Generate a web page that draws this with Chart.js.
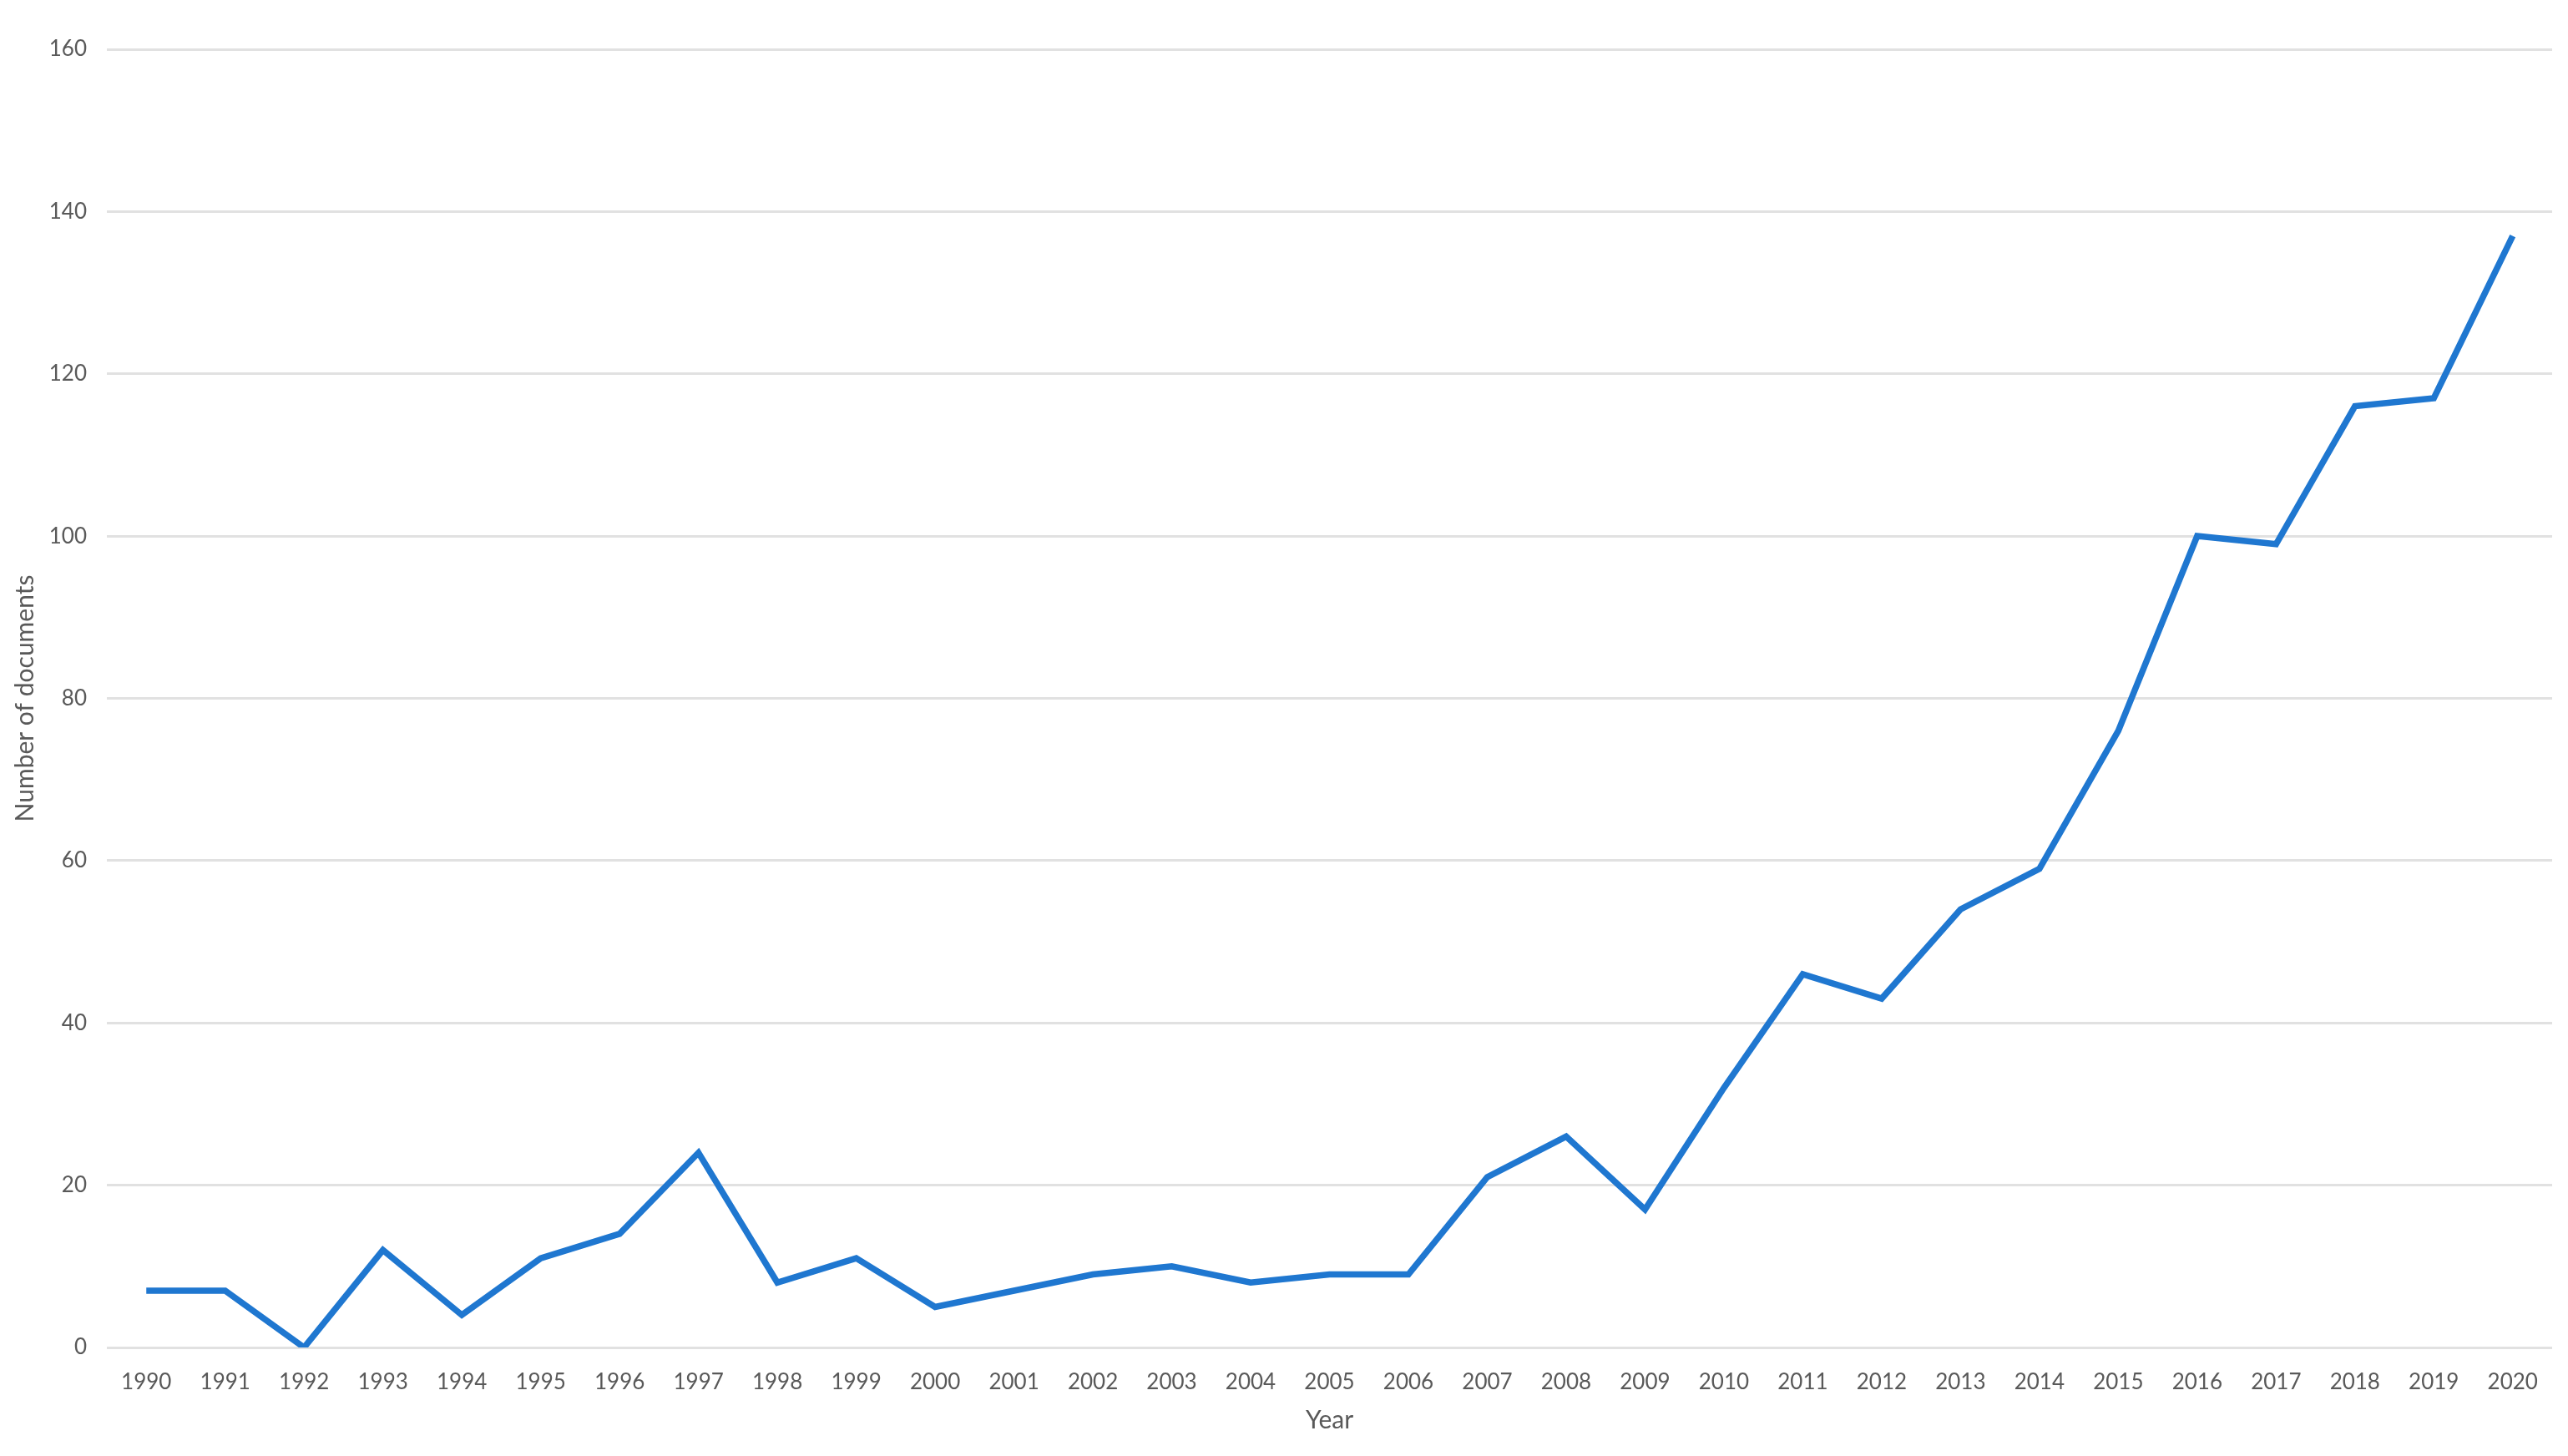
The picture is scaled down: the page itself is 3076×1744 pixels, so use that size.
<!DOCTYPE html>
<html>
<head>
<meta charset="utf-8">
<script src="https://cdn.jsdelivr.net/npm/chart.js@4.4.1/dist/chart.umd.min.js"></script>
<style>
    html, body { margin: 0; padding: 0; background: #fff; }
    #wrap { width: 3076px; height: 1744px; }
</style>
</head>
<body>
<div id="wrap"><canvas id="docChart"></canvas></div>
<script>
// Années et nombre de documents
const years = ['1990','1991','1992','1993','1994','1995','1996','1997','1998','1999',
               '2000','2001','2002','2003','2004','2005','2006','2007','2008','2009',
               '2010','2011','2012','2013','2014','2015','2016','2017','2018','2019','2020']
const docCounts = [7, 7, 0, 12, 4, 11, 14, 24, 8, 11,
                   5, 7, 9, 10, 8, 9, 9, 21, 26, 17,
                   32, 46, 43, 54, 59, 76, 100, 99, 116, 117, 137]
const yTicks = [0, 20, 40, 60, 80, 100, 120, 140, 160]

const TXT = '#595959'
const GRID = '#e1e1e1'
const FONT = 'Lato, "Open Sans", sans-serif'

new Chart(document.getElementById('docChart'), {
    type: 'line',
    data: {
        labels: years,
        datasets: [{
            data: docCounts,
            borderColor: '#1F77D0',
            borderWidth: 7.5,
            pointRadius: 0,
            tension: 0,
            fill: false
        }]
    },
    options: {
        responsive: true,
        maintainAspectRatio: false,
        animation: false,
        layout: { padding: { top: 59, right: 19, bottom: 0, left: 0 } },
        plugins: {
            legend: { display: false },
            tooltip: { enabled: false }
        },
        scales: {
            x: {
                offset: true,
                grid: { display: false },
                border: { display: false },
                ticks: {
                    color: TXT,
                    font: { family: FONT, size: 26 },
                    padding: 18,
                    maxRotation: 0,
                    autoSkip: false
                },
                title: {
                    display: true,
                    text: 'Year',
                    color: TXT,
                    font: { family: FONT, size: 30 },
                    padding: { top: 0, bottom: 25 }
                },
                afterFit: s => { s.height = 130 }
            },
            y: {
                min: 0,
                max: 160,
                afterBuildTicks: s => { s.ticks = yTicks.map(v => ({ value: v })) },
                grid: { color: GRID, lineWidth: 3, drawTicks: false },
                border: { display: false },
                ticks: {
                    color: TXT,
                    font: { family: FONT, size: 26 },
                    padding: 24
                },
                title: {
                    display: true,
                    text: 'Number of documents',
                    color: TXT,
                    font: { family: FONT, size: 30 },
                    padding: { top: 12, bottom: 0 }
                },
                afterFit: s => { s.width = 128 }
            }
        }
    }
})
</script>
</body>
</html>
